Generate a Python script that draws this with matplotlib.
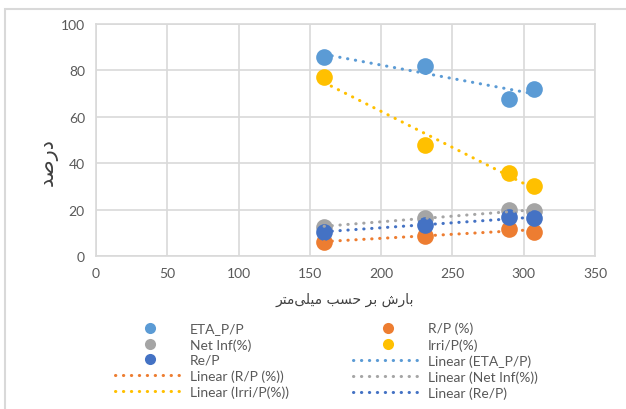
import numpy as np
import matplotlib
matplotlib.use('Agg')
import matplotlib.pyplot as plt
from matplotlib.lines import Line2D
from matplotlib.patches import Rectangle

# rainfall (mm)
rain = [160, 231, 290, 307]

eta_p = [85.7, 82.0, 67.8, 71.9]
r_p = [6.1, 8.7, 11.8, 10.4]
net_inf = [12.6, 16.5, 19.8, 19.2]
irri_p = [77.1, 47.9, 35.8, 30.2]
re_p = [10.5, 13.3, 16.6, 16.3]

names = ['ETA_P/P', 'R/P (%)', 'Net Inf(%)', 'Irri/P(%)', 'Re/P']
series = [eta_p, r_p, net_inf, irri_p, re_p]
colors = ['#5B9BD5', '#ED7D31', '#A5A5A5', '#FFC000', '#4472C4']

x_ticks = [0, 50, 100, 150, 200, 250, 300, 350]
y_ticks = [0, 20, 40, 60, 80, 100]

# arabic text in visual order, presentation forms (no shaping in matplotlib)
ylab = '\uFEAA\uFEBB\uFEAD\uFEA9'  # درصد
xlab = ('\uFEAE\uFE98\uFEE3' + '\uFEF0\uFEE0\uFEF4\uFEE3' + ' ' +
        '\uFE90\uFEB4\uFEA3' + ' ' + '\uFEAE\uFE91' + ' ' +
        '\uFEB5\uFEAD\uFE8E\uFE91')  # بارش بر حسب میلی‌متر

plt.rcParams['font.family'] = ['Lato', 'DejaVu Sans']

fig = plt.figure(figsize=(6.26, 4.10), dpi=100)
ax = fig.add_axes([96 / 626, 1 - 257 / 410, 499 / 626, 232 / 410])

fig.patches.append(Rectangle((4.5 / 626, -0.1), 1.2, 1 - 10 / 410 + 0.1,
                             transform=fig.transFigure, fill=False,
                             edgecolor='#D9D9D9', linewidth=1.5))

xs = np.array(rain, dtype=float)
lins = []
for name, vals, c in zip(names, series, colors):
    ax.plot(rain, vals, 'o', color=c, markersize=12, zorder=3,
            label=name, markeredgewidth=0)
for name, vals, c in zip(names, series, colors):
    k, b = np.polyfit(xs, vals, 1)
    xx = np.array([xs.min(), xs.max()])
    h = ax.plot(xx, k * xx + b, color=c, linewidth=2.2,
                linestyle=(0, (0.1, 2.5)), dash_capstyle='round', zorder=4,
                label='Linear (' + name + ')')[0]
    lins.append(h)

ax.set_xlim(0, 350)
ax.set_ylim(0, 100)
ax.set_xticks(x_ticks)
ax.set_yticks(y_ticks)
ax.grid(True, color='#D9D9D9', linewidth=1.2)
ax.set_axisbelow(True)
for s in ax.spines.values():
    s.set_color('#D9D9D9')
    s.set_linewidth(1.2)
ax.tick_params(length=0, labelsize=10, labelcolor='#595959', pad=8)

fig.text(48 / 626, 1 - 162 / 410, ylab, rotation=90, ha='center', va='center',
         fontsize=15, color='#404040', family='DejaVu Sans')
fig.text(345 / 626, 1 - 300 / 410, xlab, ha='center', va='center',
         fontsize=10, color='#404040', family='DejaVu Sans')

# legend order as in the reference (row-wise, two columns)
leg_pts = []
for c in colors:
    leg_pts.append(Line2D([], [], marker='o', linestyle='none', color=c,
                          markersize=8, markeredgewidth=0))
col1 = [leg_pts[0], leg_pts[2], leg_pts[4], lins[1], lins[3]]
col2 = [leg_pts[1], leg_pts[3], lins[0], lins[2], lins[4]]
lab1 = [names[0], names[2], names[4], 'Linear (' + names[1] + ')', 'Linear (' + names[3] + ')']
lab2 = [names[1], names[3], 'Linear (' + names[0] + ')', 'Linear (' + names[2] + ')', 'Linear (' + names[4] + ')']
fig.legend(col1 + col2, lab1 + lab2, ncol=2, frameon=False,
           loc='upper left', bbox_to_anchor=(108 / 626, 1 - 316 / 410),
           fontsize=10, handlelength=5.0, handletextpad=0.4,
           columnspacing=4.6, labelspacing=0.25, borderpad=0,
           labelcolor='#595959')

fig.savefig('out.png', dpi=100)
